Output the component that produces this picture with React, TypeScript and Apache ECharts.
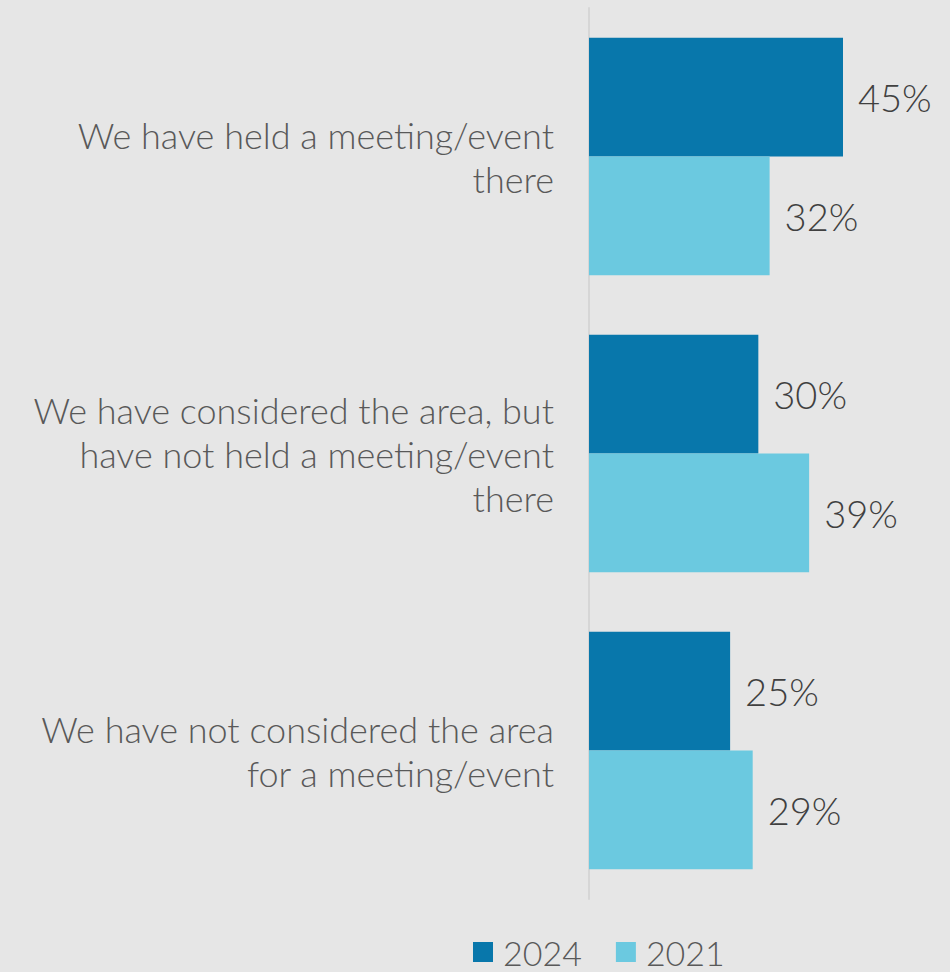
import React, { useEffect, useRef } from "react";
import * as echarts from "echarts";

const categories = [
  "We have held a meeting/event\nthere",
  "We have considered the area, but\nhave not held a meeting/event\nthere",
  "We have not considered the area\nfor a meeting/event",
];
const seriesNames = ["2024", "2021"];
const values2024 = [45, 30, 25];
const values2021 = [32, 39, 29];
const colors = ["#0877ab", "#6bc9e0"];

export default function App() {
  const ref = useRef<HTMLDivElement>(null);
  useEffect(() => {
    if (!ref.current) return;
    const chart = echarts.init(ref.current, null, { renderer: "svg" });
    const font = "Lato, 'Noto Sans', sans-serif";
    const labelStyle = {
      show: true,
      position: "right",
      distance: 15,
      formatter: "{c}%",
      color: "#404040",
      fontSize: 38,
      fontFamily: font,
      fontWeight: 300,
    };
    chart.setOption({
      animation: false,
      backgroundColor: "#e6e6e6",
      color: colors,
      grid: { left: 589, top: 8, width: (254 / 45) * 60, height: 891 },
      xAxis: {
        type: "value",
        min: 0,
        max: 60,
        show: false,
      },
      yAxis: {
        type: "category",
        inverse: true,
        data: categories,
        axisLine: { show: true, lineStyle: { color: "#d6d6d6", width: 2 } },
        axisTick: { show: false },
        axisLabel: {
          margin: 35,
          color: "#595959",
          fontSize: 36,
          lineHeight: 44,
          fontFamily: font,
          fontWeight: 300,
          align: "right",
        },
      },
      legend: {
        top: 935,
        left: 473,
        padding: 0,
        itemWidth: 20,
        itemHeight: 20,
        itemGap: 34,
        icon: "rect",
        textStyle: {
          color: "#595959",
          fontSize: 34,
          lineHeight: 34,
          fontFamily: font,
          fontWeight: 300,
          padding: [0, 0, 0, 5],
        },
        data: seriesNames,
      },
      series: [
        {
          name: seriesNames[0],
          type: "bar",
          data: values2024,
          barGap: "0%",
          barCategoryGap: "20%",
          label: labelStyle,
        },
        {
          name: seriesNames[1],
          type: "bar",
          data: values2021,
          barGap: "0%",
          barCategoryGap: "20%",
          label: labelStyle,
        },
      ],
    });
    return () => chart.dispose();
  }, []);
  return <div ref={ref} style={{ width: 950, height: 972, position: "fixed", left: 0, top: 0 }} />;
}
